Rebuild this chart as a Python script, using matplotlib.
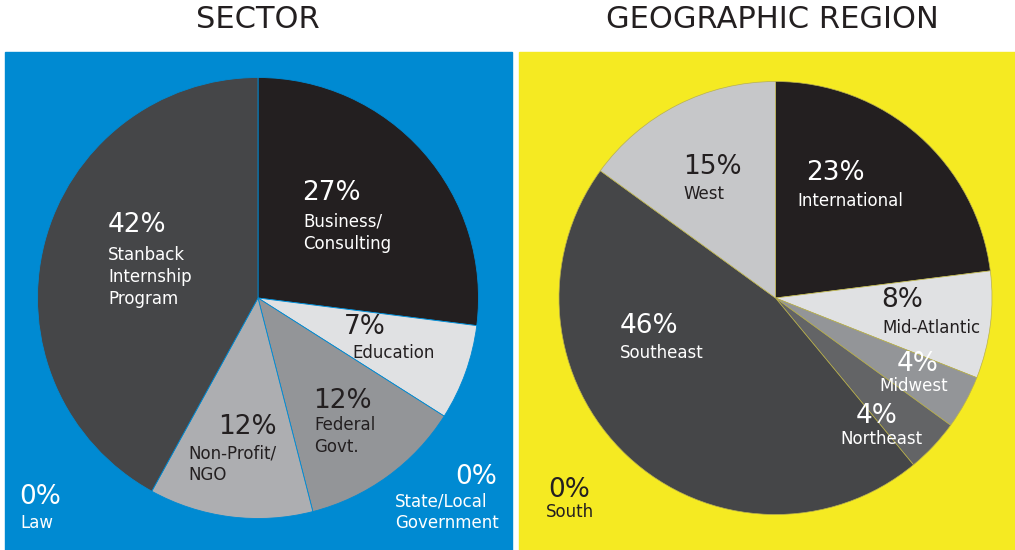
import matplotlib
matplotlib.use("Agg")
import matplotlib.pyplot as plt
from matplotlib.patches import Rectangle

# sector breakdown
sector_names = ["Business/\nConsulting", "Education", "Federal\nGovt.", "Non-Profit/\nNGO",
                "Stanback\nInternship\nProgram"]
sector_pct = [27, 7, 12, 12, 42]
sector_colors = ["#231f20", "#e0e1e3", "#939598", "#adaeb1", "#454648"]
sector_text = ["white", "#231f20", "#231f20", "#231f20", "white"]

# region breakdown
region_names = ["International", "Mid-Atlantic", "Midwest", "Northeast", "Southeast", "West"]
region_pct = [23, 8, 4, 4, 46, 15]
region_colors = ["#231f20", "#e0e1e3", "#939598", "#636466", "#454648", "#c6c7c9"]
region_text = ["white", "#231f20", "white", "white", "white", "#231f20"]

# zero categories, shown outside the pies
sector_zero = ["Law", "State/Local\nGovernment"]
region_zero = ["South"]

BLUE = "#008ad2"
YELLOW = "#f5ea22"
W, H = 1015, 550

fig = plt.figure(figsize=(W / 100, H / 100), dpi=100)
ax = fig.add_axes([0, 0, 1, 1])


def py(y):
    # pixel row from the top -> data y
    return H - y


ax.add_patch(Rectangle((5, 0), 507, py(52), color=BLUE, zorder=0))
ax.add_patch(Rectangle((519, 0), 496, py(52), color=YELLOW, zorder=0))

ax.text(258, py(20), "SECTOR", ha="center", va="center", fontsize=22, color="#231f20")
ax.text(772, py(20), "GEOGRAPHIC REGION", ha="center", va="center", fontsize=22, color="#231f20")

ax.pie(sector_pct, colors=sector_colors, startangle=90, counterclock=False,
       center=(258, py(298)), radius=220.5, frame=True,
       wedgeprops=dict(edgecolor=BLUE, linewidth=0.6))
ax.pie(region_pct, colors=region_colors, startangle=90, counterclock=False,
       center=(775.5, py(298)), radius=216.5, frame=True,
       wedgeprops=dict(edgecolor="#b8b050", linewidth=0.5))
ax.set_xlim(0, W)
ax.set_ylim(0, H)
ax.set_aspect("equal")
ax.axis("off")


def label(x, y, sx, sy, pct, name, color, ha="left"):
    ax.text(x, py(y), f"{pct}%", ha=ha, va="center", fontsize=19, color=color)
    ax.text(sx, py(sy - 8), name, ha=ha, va="top", fontsize=12,
            color=color, linespacing=1.3)


# sector labels: pct x, pct y, name x, name y (pixels from top-left)
sector_pos = [(302, 193, 303, 221), (344, 327, 352, 352), (313, 401, 314, 424),
              (218, 427, 188, 452), (108, 225, 108, 254)]
for (x, y, sx, sy), pct, name, c in zip(sector_pos, sector_pct, sector_names, sector_text):
    label(x, y, sx, sy, pct, name, c)
label(19, 497, 20, 522, 0, sector_zero[0], "white")
ax.text(497, py(477), "0%", ha="right", va="center", fontsize=19, color="white")
ax.text(395, py(500 - 8), sector_zero[1], ha="left", va="top", fontsize=12,
        color="white", linespacing=1.3)

# region labels
region_pos = [(806, 173, 797, 200), (881, 300, 882, 327), (897, 364, 879, 385),
              (856, 416, 840, 438), (620, 326, 620, 352), (683, 167, 683, 193)]
for (x, y, sx, sy), pct, name, c in zip(region_pos, region_pct, region_names, region_text):
    label(x, y, sx, sy, pct, name, c)
label(548, 490, 546, 511, 0, region_zero[0], "#231f20")

fig.savefig("out.png", dpi=100)
